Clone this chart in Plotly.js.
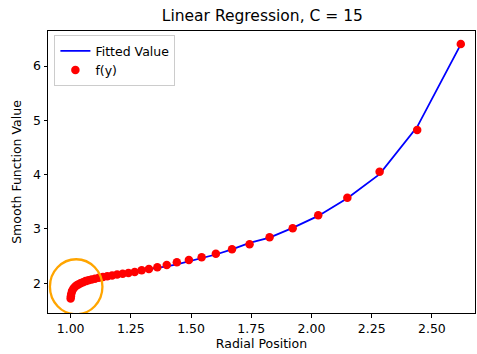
<!DOCTYPE html>
<html>
<head>
<meta charset="utf-8">
<script src="https://cdn.plot.ly/plotly-3.0.1.min.js"></script>
<style>html,body{margin:0;padding:0;background:#fff;}#chart{width:477px;height:354px;}</style>
</head>
<body>
<div id="chart"></div>
<script>
const radialPosition = [1.000, 1.001, 1.003, 1.006, 1.011, 1.017, 1.024, 1.032, 1.041, 1.051, 1.062, 1.074, 1.087, 1.101, 1.117, 1.134, 1.152, 1.172, 1.193, 1.216, 1.240, 1.266, 1.295, 1.325, 1.360, 1.399, 1.441, 1.491, 1.544, 1.603, 1.670, 1.743, 1.826, 1.922, 2.028, 2.149, 2.283, 2.439, 2.620];
const observedValue = [1.72, 1.76, 1.81, 1.86, 1.90, 1.93, 1.96, 1.98, 2.00, 2.02, 2.04, 2.055, 2.07, 2.085, 2.10, 2.115, 2.13, 2.145, 2.16, 2.175, 2.19, 2.208, 2.239, 2.263, 2.295, 2.337, 2.387, 2.429, 2.479, 2.545, 2.626, 2.718, 2.847, 3.013, 3.252, 3.577, 4.055, 4.823, 6.407];
const fittedValue = [1.80, 1.81, 1.83, 1.86, 1.89, 1.92, 1.95, 1.97, 1.99, 2.01, 2.03, 2.05, 2.07, 2.09, 2.11, 2.125, 2.14, 2.155, 2.17, 2.185, 2.20, 2.215, 2.23, 2.25, 2.275, 2.31, 2.35, 2.405, 2.46, 2.53, 2.625, 2.745, 2.84, 3.02, 3.24, 3.565, 4.01, 4.88, 6.40];
const xTicks = [1.00, 1.25, 1.50, 1.75, 2.00, 2.25, 2.50];
const yTicks = [2, 3, 4, 5, 6];

const font = 'DejaVu Sans, sans-serif';
const traces = [
  {x: radialPosition, y: fittedValue, type: 'scatter', mode: 'lines', name: 'Fitted Value',
   line: {color: '#0000ff', width: 1.8}},
  {x: radialPosition, y: observedValue, type: 'scatter', mode: 'markers', name: 'f(y)',
   marker: {color: '#ff0000', size: 8.5}}
];
const layout = {
  width: 477, height: 354,
  margin: {l: 48, r: 2, t: 31, b: 41},
  paper_bgcolor: '#fff', plot_bgcolor: '#fff',
  font: {family: font, color: '#000', size: 12.5},
  title: {text: 'Linear Regression, C = 15', font: {family: font, size: 15.5, color: '#000'}, x: 0.55, xanchor: 'center', y: 0.955, yanchor: 'middle'},
  showlegend: true,
  legend: {x: 0.015, y: 0.985, xanchor: 'left', yanchor: 'top', bgcolor: 'rgba(255,255,255,0.8)', bordercolor: '#cccccc', borderwidth: 1, font: {family: font, size: 12.5, color: '#000'}, itemwidth: 30, tracegroupgap: 2},
  xaxis: {
    range: [0.906, 2.679], tickvals: xTicks, ticktext: xTicks.map(v => v.toFixed(2)),
    showgrid: false, zeroline: false, showline: true, mirror: true, linecolor: '#000', linewidth: 1,
    ticks: 'outside', ticklen: 3.5, tickcolor: '#000', tickfont: {family: font, size: 12.5},
    title: {text: 'Radial Position', font: {family: font, size: 12.5}, standoff: 4}
  },
  yaxis: {
    range: [1.453, 6.645], tickvals: yTicks, ticktext: yTicks.map(String),
    showgrid: false, zeroline: false, showline: true, mirror: true, linecolor: '#000', linewidth: 1,
    ticks: 'outside', ticklen: 3.5, tickcolor: '#000', tickfont: {family: font, size: 12.5},
    title: {text: 'Smooth Function Value', font: {family: font, size: 12.5}, standoff: 8}
  },
  shapes: [
    {type: 'circle', xref: 'x', yref: 'y', x0: 0.914, x1: 1.132, y0: 1.43, y1: 2.443,
     line: {color: '#ffa500', width: 2.3}, layer: 'above'}
  ]
};
Plotly.newPlot('chart', traces, layout, {staticPlot: true, displayModeBar: false});
</script>
</body>
</html>
